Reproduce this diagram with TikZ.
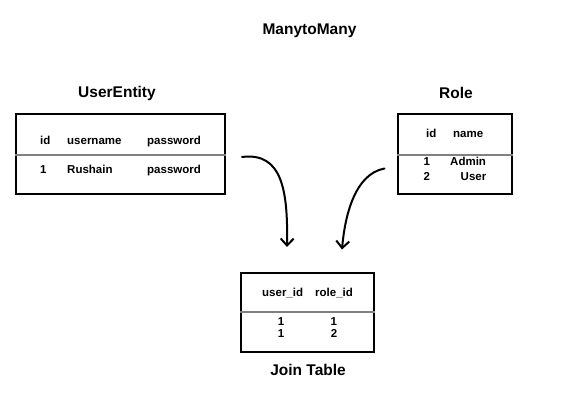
\documentclass[tikz,border=0pt]{standalone}
\usepackage{fontspec}
\setmainfont{Liberation Sans}
\usetikzlibrary{arrows.meta}
\begin{document}
\begin{tikzpicture}[x=1pt,y=-1pt,
  title/.style={font=\bfseries\fontsize{15.5}{18}\selectfont,inner sep=0pt,text height=0.716em,text depth=0pt},
  cell/.style={font=\bfseries\fontsize{11.5}{13}\selectfont,inner sep=0pt,text height=0.716em,text depth=0pt},
  tablebox/.style={draw=black,line width=2pt,fill=white,inner sep=0pt},
  sep/.style={draw=black!50,line width=2pt},
  link/.style={line width=2pt,line cap=round,-{Straight Barb[length=7pt,width=13pt,line width=2pt]}}]
\useasboundingbox (0,0) rectangle (565,411);
% title
\node[title] (main) at (309.5,31) {ManytoMany};
% UserEntity
\node[title] (ut) at (117,94) {UserEntity};
\node[tablebox,minimum width=209pt,minimum height=80pt] (ub) at (120.5,154) {};
\draw[sep] (ub.west |- 0,155) coordinate (us1) -- (ub.east |- 0,155) coordinate (us2);
\node[cell,anchor=west] (uh1) at (40,140.5) {id};
\node[cell,anchor=west] (uh2) at (67,140.5) {username};
\node[cell,anchor=west] (uh3) at (147,140.5) {password};
\node[cell,anchor=west] (ur1) at (40,169.5) {1};
\node[cell,anchor=west] (ur2) at (67,169.5) {Rushain};
\node[cell,anchor=west] (ur3) at (147,169.5) {password};
% Role
\node[title] (rt) at (456,95) {Role};
\node[tablebox,minimum width=114pt,minimum height=80pt] (rb) at (454.7,154) {};
\draw[sep] (rb.west |- 0,155) coordinate (rs1) -- (rb.east |- 0,155) coordinate (rs2);
\node[cell,anchor=west] (rh1) at (426,133.5) {id};
\node[cell,anchor=west] (rh2) at (453,133.5) {name};
\node[cell,anchor=west] (rr1) at (423.5,162) {1};
\node[cell,anchor=west] (rr2) at (450,162) {Admin};
\node[cell,anchor=west] (rr3) at (423.5,176.5) {2};
\node[cell,anchor=west] (rr4) at (460.5,176.5) {User};
% Join table
\node[tablebox,minimum width=133pt,minimum height=79pt] (jb) at (307.5,312.2) {};
\draw[sep] (jb.west |- 0,312) coordinate (js1) -- (jb.east |- 0,312) coordinate (js2);
\node[cell,anchor=west] (jh1) at (262,292.5) {user\_id};
\node[cell,anchor=west] (jh2) at (315,292.5) {role\_id};
\node[cell] (jr1) at (281,321.7) {1};
\node[cell] (jr2) at (333.7,321.7) {1};
\node[cell] (jr3) at (281,334.2) {1};
\node[cell] (jr4) at (334,334.2) {2};
\node[title] (jt) at (308,371.5) {Join Table};
% arrows
\coordinate (a1s) at (242,157);
\coordinate (a1e) at (287,247);
\coordinate (a2s) at (384.5,168.5);
\coordinate (a2e) at (342,249.5);
\draw[link] (a1s) .. controls (282,152) and (288,190) .. (a1e);
\draw[link] (a2s) .. controls (355,174) and (345,215) .. (a2e);
\end{tikzpicture}
\end{document}
